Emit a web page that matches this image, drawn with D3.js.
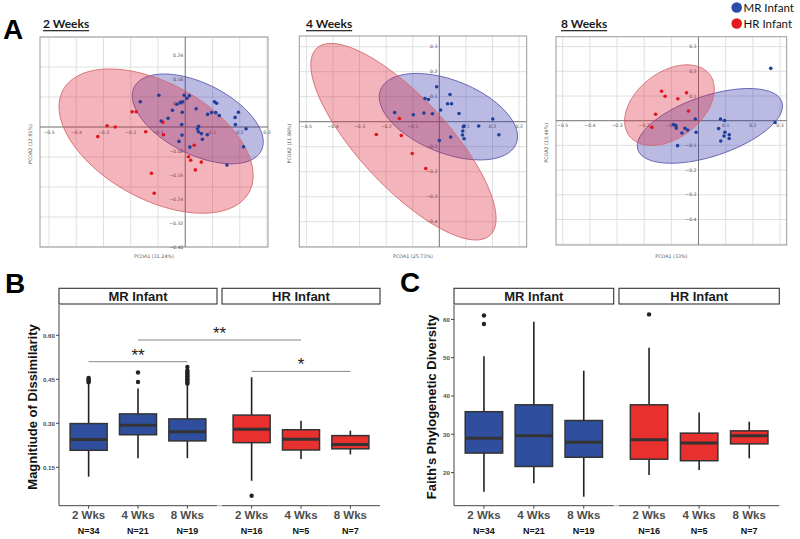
<!DOCTYPE html>
<html><head><meta charset="utf-8">
<script src="https://cdn.jsdelivr.net/npm/d3@7"></script>
<style>body{margin:0;background:#fff}svg{display:block}</style>
</head><body>
<svg id="c" width="800" height="539"></svg>
<script>
// ---------------- DATA ----------------
const pcoaWeeks = ["2 Weeks", "4 Weeks", "8 Weeks"];
const pcoaXTitles = ["PCOA1 (31.24%)", "PCOA1 (25.73%)", "PCOA1 (33%)"];
const pcoaYTitles = ["PCOA2 (12.91%)", "PCOA2 (11.86%)", "PCOA2 (13.46%)"];
const pcoaXTicks = [-0.5, -0.4, -0.3, -0.2, -0.1, 0.1, 0.2, 0.3];
const pcoaYTicks2wk = [0.24, 0.16, 0.08, -0.08, -0.16, -0.24, -0.32, -0.40];
const pcoaYTicks = [0.3, 0.2, 0.1, -0.1, -0.2, -0.3, -0.4];
const legendLabels = ["MR Infant", "HR Infant"];

const mr2wk = [[-0.165,0.084],[-0.097,0.106],[-0.004,0.106],[0.015,0.104],[0.006,0.096],[-0.009,0.084],[-0.018,0.082],[-0.031,0.076],[-0.047,0.056],[-0.011,0.049],[-0.063,0.029],[-0.088,0.020],[-0.013,0.008],[0.040,0.061],[0.082,0.042],[0.097,0.048],[0.112,0.048],[0.107,0.084],[0.115,0.079],[0.125,0.038],[0.195,0.049],[0.183,0.032],[0.184,0.008],[0.223,-0.006],[0.049,0.002],[0.045,-0.006],[0.048,-0.016],[0.059,-0.022],[0.081,-0.026],[0.063,-0.041],[-0.012,-0.027],[-0.023,-0.048],[0.017,-0.067],[0.214,-0.066],[0.153,-0.127]];
const hr2wk = [[-0.195,0.051],[-0.180,0.051],[-0.082,0.016],[-0.287,0.004],[-0.257,0.000],[-0.321,-0.032],[-0.145,-0.016],[-0.080,-0.026],[0.033,-0.061],[0.012,-0.099],[0.020,-0.111],[0.059,-0.117],[0.037,-0.143],[-0.124,-0.154],[-0.114,-0.221]];
const mr4wk = [[-0.010,0.140],[0.040,0.109],[-0.054,0.093],[-0.041,0.089],[0.031,0.072],[0.046,0.072],[0.005,0.047],[0.074,0.033],[-0.168,0.037],[-0.098,0.028],[-0.058,0.035],[-0.026,0.032],[0.201,0.011],[0.093,-0.017],[0.090,-0.020],[0.148,-0.017],[0.224,-0.052],[0.088,-0.037],[0.087,-0.053],[0.093,-0.068],[0.043,-0.061],[0.000,-0.075]];
const hr4wk = [[-0.150,0.013],[-0.237,-0.051],[-0.143,-0.055],[-0.102,-0.127],[-0.051,-0.187]];
const mr8wk = [[0.266,0.212],[0.282,-0.007],[-0.012,0.007],[0.081,0.007],[0.096,0.001],[0.074,-0.032],[0.097,-0.047],[0.094,-0.062],[0.113,-0.057],[0.113,-0.072],[0.082,-0.082],[-0.009,-0.047],[-0.092,-0.016],[-0.083,-0.020],[-0.082,-0.030],[-0.050,-0.031],[-0.040,-0.038],[-0.061,-0.050],[-0.077,-0.101]];
const hr8wk = [[-0.136,0.119],[-0.123,0.099],[-0.044,0.113],[-0.076,0.089],[-0.037,0.039],[-0.158,0.026],[-0.172,-0.027]];

// ellipses: centre (cx,cy), semi-axis vectors (ux,uy), (vx,vy) in data units
const ellipseMR = [[0.046,0.027,0.233,-0.106,-0.0586,-0.1057],[0.034,0.020,0.255,-0.108,-0.051,-0.135],[0.042,-0.021,0.265,0.097,0.035,-0.116]];
const ellipseHR = [[-0.107,-0.047,0.341,-0.171,-0.103,-0.169],[-0.135,-0.080,0.326,-0.374,-0.123,-0.121],[-0.107,0.063,0.148,0.124,0.073,-0.106]];

const boxGroups = ["MR Infant", "HR Infant"];
const boxWeeks = ["2 Wks", "4 Wks", "8 Wks"];
const boxCounts = ["N=34", "N=21", "N=19", "N=16", "N=5", "N=7"];

const dissimTicks = [0.15, 0.30, 0.45, 0.60];
const dissimLow = [0.118, 0.181, 0.181, 0.104, 0.178, 0.194];
const dissimQ1 = [0.208, 0.261, 0.240, 0.234, 0.209, 0.213];
const dissimMed = [0.245, 0.293, 0.271, 0.280, 0.246, 0.228];
const dissimQ3 = [0.299, 0.332, 0.315, 0.328, 0.278, 0.258];
const dissimHigh = [0.435, 0.419, 0.428, 0.457, 0.309, 0.275];
const dissimOut = [[0.440, 0.445, 0.450, 0.455], [0.441, 0.473], [0.435, 0.440, 0.445, 0.450, 0.455, 0.460, 0.465, 0.470, 0.475, 0.480, 0.492], [0.053], [], []];
const sigFrom = [0, 1, 3];
const sigTo = [2, 4, 5];
const sigLevel = [0.510, 0.584, 0.477];
const sigLabel = ["**", "**", "*"];

const faithTicks = [20, 30, 40, 50, 60];
const faithLow = [15.0, 17.2, 13.7, 19.4, 20.7, 23.7];
const faithQ1 = [25.1, 21.6, 24.0, 23.5, 23.1, 27.5];
const faithMed = [29.0, 29.6, 27.9, 28.6, 27.7, 29.6];
const faithQ3 = [35.9, 37.7, 33.6, 37.7, 30.3, 30.9];
const faithHigh = [50.4, 59.4, 46.6, 52.6, 35.7, 33.3];
const faithOut = [[58.8, 61.0], [], [], [61.3], [], []];

// ---------------- DRAWING ----------------
const svg = d3.select("#c");
const BLUE = "#2f4f9e", RED = "#e8312f";
const PT_BLUE = "#1f3f9c", PT_RED = "#e3141b";

// Panel letters
[["A", 3, 38.5], ["B", 5, 293], ["C", 400, 292]].forEach(([t, x, y]) => {
  svg.append("text").attr("x", x).attr("y", y).text(t)
    .attr("font-family", "Liberation Sans, Arial, sans-serif").attr("font-weight", "bold").attr("font-size", 28);
});

// Legend
legendLabels.forEach((lab, i) => {
  const y = 7.5 + i * 16;
  svg.append("circle").attr("cx", 736.7).attr("cy", y).attr("r", 5.3).attr("fill", i ? "#e41a1c" : "#2a4da6");
  svg.append("text").attr("x", 743.5).attr("y", y + 4).text(lab)
    .attr("font-family", "Lato, Open Sans, sans-serif").attr("font-size", 11.5).attr("fill", "#111");
});

// PCoA panels
const pcoaLayout = [
  { frame: [40, 37, 268, 247], xr: [49, 267], yr: [37, 247], yTicks: pcoaYTicks2wk, fmt: d3.format(".2f"), tx: 43 },
  { frame: [299.3, 36, 526.7, 247], xr: [306.4, 519.1], yr: [46.7, 221.7], yTicks: pcoaYTicks, fmt: d3.format(".1f"), tx: 306 },
  { frame: [556, 36.7, 786.7, 245], xr: [562.7, 780], yr: [46.6, 219.5], yTicks: pcoaYTicks, fmt: d3.format(".1f"), tx: 561 }
];
const mrPts = [mr2wk, mr4wk, mr8wk], hrPts = [hr2wk, hr4wk, hr8wk];

pcoaLayout.forEach((L, i) => {
  const [fx0, fy0, fx1, fy1] = L.frame;
  const x = d3.scaleLinear().domain([-0.5, 0.3]).range(L.xr);
  const y = d3.scaleLinear().domain([0.3, -0.4]).range(L.yr);
  const g = svg.append("g");
  // grid
  const gridX = d3.range(-6, 5).map(d => d / 10).filter(v => x(v) >= fx0 - 0.5 && x(v) <= fx1 + 0.5);
  const gridY = d3.range(-6, 5).map(d => d / 10).filter(v => y(v) >= fy0 - 0.5 && y(v) <= fy1 + 0.5);
  g.selectAll(".gx").data(gridX).join("line").attr("x1", d => x(d)).attr("x2", d => x(d))
    .attr("y1", fy0).attr("y2", fy1).attr("stroke", "#dcdcdc").attr("stroke-width", 0.9);
  g.selectAll(".gy").data(gridY).join("line").attr("y1", d => y(d)).attr("y2", d => y(d))
    .attr("x1", fx0).attr("x2", fx1).attr("stroke", "#dcdcdc").attr("stroke-width", 0.9);
  g.append("rect").attr("x", fx0).attr("y", fy0).attr("width", fx1 - fx0).attr("height", fy1 - fy0)
    .attr("fill", "none").attr("stroke", "#9a9a9a").attr("stroke-width", 1);
  // zero axes
  g.append("line").attr("x1", fx0).attr("x2", fx1).attr("y1", y(0)).attr("y2", y(0)).attr("stroke", "#7a7a7a").attr("stroke-width", 1);
  g.append("line").attr("y1", fy0).attr("y2", fy1).attr("x1", x(0)).attr("x2", x(0)).attr("stroke", "#7a7a7a").attr("stroke-width", 1);
  // tick labels
  g.selectAll(".xl").data(pcoaXTicks).join("text").attr("x", d => x(d)).attr("y", y(0) + 6.5)
    .attr("text-anchor", "middle").attr("font-size", 4.6).attr("fill", "#555")
    .attr("font-family", "DejaVu Sans, sans-serif").text(d => d3.format(".1f")(d).replace("-", "−"));
  g.selectAll(".yl").data(L.yTicks).join("text").attr("x", x(0) - 2).attr("y", d => y(d) + 1.6)
    .attr("text-anchor", "end").attr("font-size", 4.6).attr("fill", "#555")
    .attr("font-family", "DejaVu Sans, sans-serif").text(d => L.fmt(d).replace("-", "−"));
  // axis titles
  g.append("text").attr("x", (fx0 + fx1) / 2).attr("y", 258).attr("text-anchor", "middle")
    .attr("font-size", 4.8).attr("fill", "#555").attr("font-family", "DejaVu Sans, sans-serif").text(pcoaXTitles[i]);
  g.append("text").attr("transform", `translate(${fx0 - 8},${(fy0 + fy1) / 2 + 2}) rotate(-90)`).attr("text-anchor", "middle")
    .attr("font-size", 4.8).attr("fill", "#555").attr("font-family", "DejaVu Sans, sans-serif").text(pcoaYTitles[i]);
  // title
  const t = svg.append("text").attr("x", L.tx).attr("y", 27.5).text(pcoaWeeks[i])
    .attr("font-family", "Lato, Open Sans, sans-serif").attr("font-weight", "bold").attr("font-size", 12).attr("fill", "#1a1a1a");
  const w = t.node().getComputedTextLength();
  svg.append("rect").attr("x", L.tx).attr("y", 30).attr("width", w).attr("height", 1.3).attr("fill", "#333");
  // ellipses
  const ell = (e) => d3.line().curve(d3.curveLinearClosed)(
    d3.range(0, 120).map(k => { const a = k / 120 * 2 * Math.PI;
      return [x(e[0] + e[2] * Math.cos(a) + e[4] * Math.sin(a)), y(e[1] + e[3] * Math.cos(a) + e[5] * Math.sin(a))]; }));
  g.append("path").attr("d", ell(ellipseMR[i])).attr("fill", "rgb(45,45,170)").attr("fill-opacity", 0.33)
    .attr("stroke", "#5a5aae").attr("stroke-width", 0.9);
  g.append("path").attr("d", ell(ellipseHR[i])).attr("fill", "rgb(220,40,60)").attr("fill-opacity", 0.35)
    .attr("stroke", "#d46a6e").attr("stroke-width", 0.9);
  // points
  g.selectAll(".pm").data(mrPts[i]).join("circle").attr("cx", d => x(d[0])).attr("cy", d => y(d[1])).attr("r", 1.8).attr("fill", PT_BLUE);
  g.selectAll(".ph").data(hrPts[i]).join("circle").attr("cx", d => x(d[0])).attr("cy", d => y(d[1])).attr("r", 1.8).attr("fill", PT_RED);
});

// Box plot panels
function boxPanel(cfg) {
  const { facets, y, ticks, tickFmt, low, q1, med, q3, high, out, title, titleX } = cfg;
  const top = 305, bottom = 505.7, stripTop = 288.3;
  const g = svg.append("g");
  const xs = facets.map(f => d3.scalePoint().domain(boxWeeks).range(f).padding(0.6));
  const step = xs[0].step(), bw = step * 0.75;
  facets.forEach((f, gi) => {
    g.append("rect").attr("x", f[0]).attr("y", stripTop).attr("width", f[1] - f[0]).attr("height", top - stripTop - 1)
      .attr("fill", "#fff").attr("stroke", "#333").attr("stroke-width", 1.1);
    g.append("text").attr("x", (f[0] + f[1]) / 2).attr("y", 301.2).attr("text-anchor", "middle").text(boxGroups[gi])
      .attr("font-family", "Liberation Sans, Arial, sans-serif").attr("font-weight", "bold").attr("font-size", 13).attr("fill", "#1a1a1a");
    g.append("line").attr("x1", f[0]).attr("x2", f[1]).attr("y1", bottom).attr("y2", bottom).attr("stroke", "#444").attr("stroke-width", 1);
    boxWeeks.forEach((wk, wi) => {
      const k = gi * 3 + wi, cx = xs[gi](wk);
      const col = gi ? RED : BLUE;
      g.append("line").attr("x1", cx).attr("x2", cx).attr("y1", bottom).attr("y2", bottom + 3).attr("stroke", "#444");
      g.append("text").attr("x", cx).attr("y", 519).attr("text-anchor", "middle").text(wk)
        .attr("font-family", "Liberation Sans, Arial, sans-serif").attr("font-weight", "bold").attr("font-size", 11.5).attr("fill", "#4d4d4d");
      g.append("text").attr("x", cx).attr("y", 533.5).attr("text-anchor", "middle").text(boxCounts[k])
        .attr("font-family", "Liberation Sans, Arial, sans-serif").attr("font-weight", "bold").attr("font-size", 9).attr("fill", "#111");
      g.append("line").attr("x1", cx).attr("x2", cx).attr("y1", y(q3[k])).attr("y2", y(high[k])).attr("stroke", "#222").attr("stroke-width", 1.6);
      g.append("line").attr("x1", cx).attr("x2", cx).attr("y1", y(q1[k])).attr("y2", y(low[k])).attr("stroke", "#222").attr("stroke-width", 1.6);
      g.append("rect").attr("x", cx - bw / 2).attr("y", y(q3[k])).attr("width", bw).attr("height", y(q1[k]) - y(q3[k]))
        .attr("fill", col).attr("stroke", "#333").attr("stroke-width", 1.5);
      g.append("line").attr("x1", cx - bw / 2).attr("x2", cx + bw / 2).attr("y1", y(med[k])).attr("y2", y(med[k]))
        .attr("stroke", "#333").attr("stroke-width", 3);
      g.selectAll(null).data(out[k]).join("circle").attr("cx", cx).attr("cy", d => y(d)).attr("r", 2.2).attr("fill", "#222");
    });
  });
  g.append("line").attr("x1", facets[0][1]).attr("x2", facets[1][0]).attr("y1", bottom).attr("y2", bottom).attr("stroke", "#bbb").attr("stroke-width", 1);
  const lx = facets[0][0];
  g.append("line").attr("x1", lx).attr("x2", lx).attr("y1", top).attr("y2", bottom).attr("stroke", "#444").attr("stroke-width", 1);
  ticks.forEach(v => {
    g.append("line").attr("x1", lx - 3).attr("x2", lx).attr("y1", y(v)).attr("y2", y(v)).attr("stroke", "#444");
    g.append("text").attr("x", lx - 4).attr("y", y(v) + 2.2).attr("text-anchor", "end").text(tickFmt(v))
      .attr("font-family", "Liberation Sans, Arial, sans-serif").attr("font-weight", "bold").attr("font-size", 6.2).attr("fill", "#4d4d4d");
  });
  g.append("text").attr("transform", `translate(${titleX},407) rotate(-90)`).attr("text-anchor", "middle").text(title)
    .attr("font-family", "Liberation Sans, Arial, sans-serif").attr("font-weight", "bold").attr("font-size", 13).attr("fill", "#111");
  return xs;
}

const yB = d3.scaleLinear().domain([0, 0.6]).range([511.3, 335.3]);
const xsB = boxPanel({ facets: [[59, 217], [222, 380]], y: yB, ticks: dissimTicks, tickFmt: d3.format(".2f"),
  low: dissimLow, q1: dissimQ1, med: dissimMed, q3: dissimQ3, high: dissimHigh, out: dissimOut,
  title: "Magnitiude of Dissimilarity", titleX: 37 });
const xOfB = k => xsB[Math.floor(k / 3)](boxWeeks[k % 3]);
sigFrom.forEach((a, i) => {
  const x1 = xOfB(a), x2 = xOfB(sigTo[i]), yy = yB(sigLevel[i]);
  svg.append("line").attr("x1", x1).attr("x2", x2).attr("y1", yy).attr("y2", yy).attr("stroke", "#888").attr("stroke-width", 1);
  svg.append("text").attr("x", (x1 + x2) / 2).attr("y", yy - 1).attr("text-anchor", "middle").text(sigLabel[i])
    .attr("font-family", "Liberation Sans, Arial, sans-serif").attr("font-size", 17).attr("fill", "#222");
});

const yC = d3.scaleLinear().domain([20, 60]).range([472.6, 319.4]);
boxPanel({ facets: [[454, 613.7], [619, 779.3]], y: yC, ticks: faithTicks, tickFmt: d3.format("d"),
  low: faithLow, q1: faithQ1, med: faithMed, q3: faithQ3, high: faithHigh, out: faithOut,
  title: "Faith's Phylogenetic Diversity", titleX: 436 });
</script>
</body></html>
